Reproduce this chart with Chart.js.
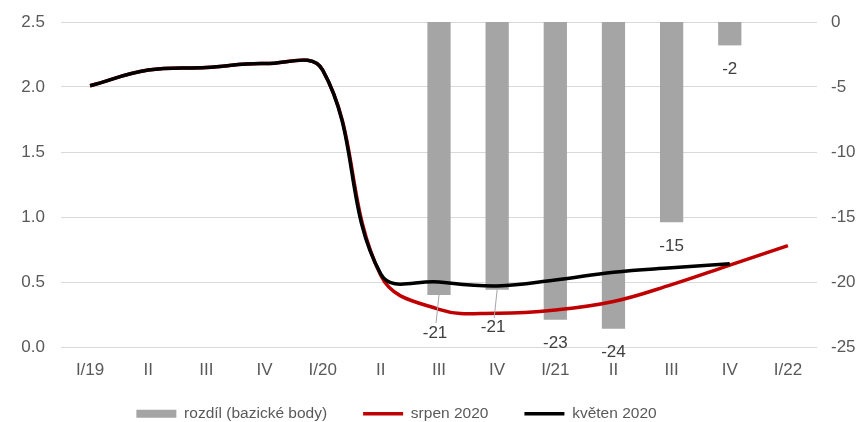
<!DOCTYPE html>
<html>
<head>
<meta charset="utf-8">
<script src="https://cdn.jsdelivr.net/npm/chart.js@4.4.1/dist/chart.umd.min.js"></script>
<style>
  html, body { margin: 0; padding: 0; background: #fff; }
  #wrap { width: 863px; height: 422px; }
</style>
</head>
<body>
<div id="wrap"><canvas id="chart"></canvas></div>
<script>
// kvartály
const labels = ["I/19", "II", "III", "IV", "I/20", "II", "III", "IV", "I/21", "II", "III", "IV", "I/22"];
// rozdíl v bazických bodech (pravá osa)
const rozdil = [null, null, null, null, null, null, -21.0, -20.6, -22.9, -23.6, -15.4, -1.8, null];
// prognózy (levá osa)
const srpen = [2.01, 2.13, 2.15, 2.18, 2.13, 0.55, 0.29, 0.26, 0.285, 0.35, 0.48, 0.63, 0.78];
const kveten = [2.01, 2.13, 2.15, 2.18, 2.13, 0.56, 0.50, 0.47, 0.515, 0.575, 0.61, 0.64, null];
const leftTicks = [0, 0.5, 1.0, 1.5, 2.0, 2.5];
const rightTicks = [-25, -20, -15, -10, -5, 0];

const FONT = "'Liberation Sans', Arial, sans-serif";
const GREY_TXT = "#595959";

// popisky hodnot pod sloupci
const barLabels = {
  id: "barLabels",
  afterDatasetsDraw(chart) {
    const ctx = chart.ctx;
    const meta = chart.getDatasetMeta(0);
    ctx.save();
    ctx.font = "17px " + FONT;
    ctx.fillStyle = "#404040";
    ctx.textAlign = "center";
    ctx.textBaseline = "middle";
    meta.data.forEach((bar, i) => {
      const v = rozdil[i];
      if (v === null) return;
      let x = bar.x, y = bar.y + 24;
      // první dva popisky jsou posunuté níž, s vodicí čarou
      if (i === 6 || i === 7) {
        x -= 4;
        y = bar.y + 38;
        ctx.strokeStyle = "#a5a5a5";
        ctx.lineWidth = 1;
        ctx.beginPath();
        ctx.moveTo(bar.x, bar.y);
        ctx.lineTo(x + 1, y - 10);
        ctx.stroke();
      }
      ctx.fillText(String(Math.round(v)), x, y);
    });
    ctx.restore();
  }
};

// legenda je v originále posunutá doleva a výš
const shiftLegend = {
  id: "shiftLegend",
  afterLayout(chart) {
    const lg = chart.legend;
    lg.left -= 35;
    lg.right -= 35;
    lg.top -= 17;
  }
};

const noPad = (scale) => {
  scale.paddingTop = 0;
  scale.paddingBottom = 0;
};

new Chart(document.getElementById("chart"), {
  data: {
    labels,
    datasets: [
      {
        type: "bar",
        label: "rozdíl (bazické body)",
        data: rozdil,
        yAxisID: "y1",
        backgroundColor: "#a5a5a5",
        borderWidth: 0,
        barPercentage: 0.4,
        categoryPercentage: 1,
        order: 3,
        pointStyle: "rect",
      },
      {
        type: "line",
        label: "srpen 2020",
        data: srpen,
        yAxisID: "y",
        borderColor: "#c00000",
        backgroundColor: "#c00000",
        borderWidth: 3.5,
        pointRadius: 0,
        tension: 0.4,
        order: 2,
        pointStyle: "line",
      },
      {
        type: "line",
        label: "květen 2020",
        data: kveten,
        yAxisID: "y",
        borderColor: "#000000",
        backgroundColor: "#000000",
        borderWidth: 3.5,
        pointRadius: 0,
        tension: 0.4,
        order: 1,
        pointStyle: "line",
      },
    ],
  },
  options: {
    responsive: true,
    maintainAspectRatio: false,
    animation: false,
    layout: { padding: { top: 22, bottom: 0 } },
    plugins: {
      tooltip: { enabled: false },
      legend: {
        position: "bottom",
        maxHeight: 35,
        labels: {
          usePointStyle: true,
          pointStyleWidth: 40,
          boxHeight: 8,
          padding: 36,
          color: GREY_TXT,
          font: { family: FONT, size: 15.5 },
          sort: (a, b) => a.datasetIndex - b.datasetIndex,
        },
      },
    },
    scales: {
      x: {
        grid: { display: false },
        border: { display: false },
        ticks: { color: GREY_TXT, font: { family: FONT, size: 17 }, padding: 5, maxRotation: 0 },
        afterFit(scale) { scale.height = 40; },
      },
      y: {
        position: "left",
        min: 0,
        max: 2.5,
        afterBuildTicks(scale) { scale.ticks = leftTicks.map((v) => ({ value: v })); },
        grid: { color: "#d9d9d9", lineWidth: 1, drawTicks: false },
        border: { display: false },
        ticks: {
          color: GREY_TXT,
          font: { family: FONT, size: 17 },
          padding: 16,
          callback: (v) => Number(v).toFixed(1),
        },
        afterFit(scale) { scale.width = 61; noPad(scale); },
      },
      y1: {
        position: "right",
        min: -25,
        max: 0,
        afterBuildTicks(scale) { scale.ticks = rightTicks.map((v) => ({ value: v })); },
        grid: { display: false, drawTicks: false },
        border: { display: false },
        ticks: { color: GREY_TXT, font: { family: FONT, size: 17 }, padding: 14 },
        afterFit(scale) { scale.width = 46; noPad(scale); },
      },
    },
  },
  plugins: [barLabels, shiftLegend],
});
</script>
</body>
</html>
